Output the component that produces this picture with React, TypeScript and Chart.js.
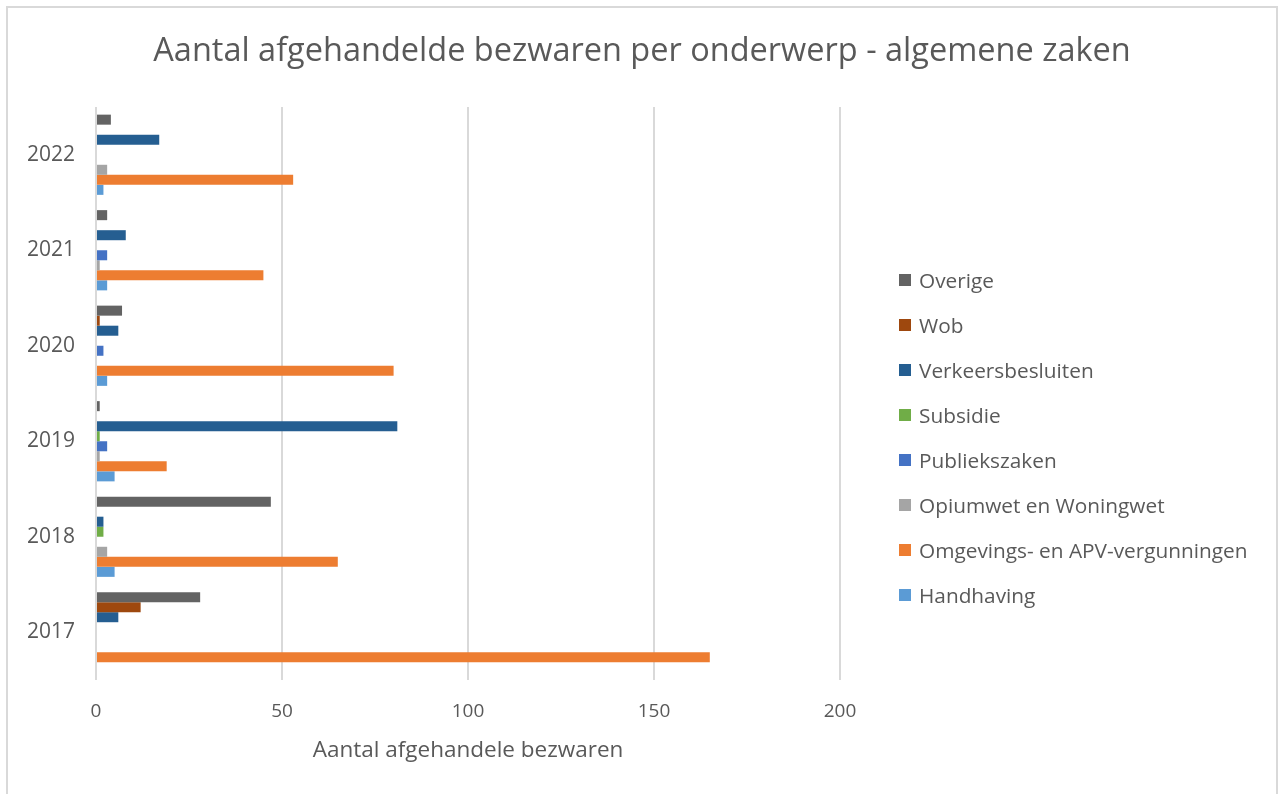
import React, { useEffect, useRef } from "react";
import { Chart, registerables } from "chart.js";

Chart.register(...registerables);

const years = ["2022", "2021", "2020", "2019", "2018", "2017"];
const seriesNames = [
  "Overige",
  "Wob",
  "Verkeersbesluiten",
  "Subsidie",
  "Publiekszaken",
  "Opiumwet en Woningwet",
  "Omgevings- en APV-vergunningen",
  "Handhaving",
];
const seriesColors = [
  "#636363",
  "#9E480E",
  "#255E91",
  "#70AD47",
  "#4472C4",
  "#A5A5A5",
  "#ED7D31",
  "#5B9BD5",
];
const overige = [4, 3, 7, 1, 47, 28];
const wob = [0, 0, 1, 0, 0, 12];
const verkeersbesluiten = [17, 8, 6, 81, 2, 6];
const subsidie = [0, 0, 0, 1, 2, 0];
const publiekszaken = [0, 3, 2, 3, 0, 0];
const opiumwet = [3, 1, 0, 1, 3, 0];
const omgevings = [53, 45, 80, 19, 65, 165];
const handhaving = [2, 3, 3, 5, 5, 0];
const seriesValues = [overige, wob, verkeersbesluiten, subsidie, publiekszaken, opiumwet, omgevings, handhaving];

const titleText = "Aantal afgehandelde bezwaren per onderwerp - algemene zaken";
const xTitle = "Aantal afgehandele bezwaren";
const FONT = "'Open Sans', sans-serif";
const TEXT = "#595959";

export default function App() {
  const ref = useRef<HTMLCanvasElement | null>(null);
  useEffect(() => {
    if (!ref.current) return;
    const chart = new Chart(ref.current, {
      type: "bar",
      data: {
        labels: years,
        datasets: seriesNames.map((name, i) => ({
          label: name,
          data: seriesValues[i],
          backgroundColor: seriesColors[i],
          borderWidth: 0,
          barPercentage: 1,
          categoryPercentage: 0.84,
        })),
      },
      options: {
        indexAxis: "y",
        animation: false,
        responsive: false,
        maintainAspectRatio: false,
        layout: { padding: { left: 16, right: 12, top: 0, bottom: 24 } },
        plugins: {
          legend: { display: false },
          tooltip: { enabled: false },
          title: {
            display: true,
            text: titleText,
            color: TEXT,
            font: { family: FONT, size: 32.5, weight: "normal" },
            padding: { top: 32, bottom: 36 },
          },
        },
        scales: {
          y: {
            type: "category",
            grid: { display: false, drawTicks: false },
            border: { display: false },
            ticks: { color: TEXT, font: { family: FONT, size: 21 }, padding: 21 },
            afterFit: (s: any) => {
              s.width = 80;
            },
          },
          legendSpace: {
            type: "linear",
            position: "right",
            display: true,
            grid: { display: false, drawTicks: false },
            border: { display: false },
            ticks: { display: false },
            afterFit: (s: any) => {
              s.width = 428;
            },
          },
          x: {
            min: 0,
            max: 200,
            ticks: { stepSize: 50, color: TEXT, font: { family: FONT, size: 19 }, padding: 20 },
            grid: { color: "#d9d9d9", lineWidth: 2, drawTicks: false },
            border: { display: false },
            title: {
              display: true,
              text: xTitle,
              color: TEXT,
              font: { family: FONT, size: 22.5 },
              padding: { top: 0, bottom: 6 },
            },
            afterFit: (s: any) => {
              s.height = 90;
            },
          },
        },
      },
    });
    return () => chart.destroy();
  }, []);

  return (
    <div style={{ position: "absolute", left: 0, top: 0, width: 1280, height: 794, overflow: "hidden", background: "#fff" }}>
      <div
        style={{
          position: "absolute",
          left: 6,
          top: 6,
          width: 1268,
          height: 840,
          border: "2px solid #d9d9d9",
        }}
      />
      <canvas ref={ref} width={1280} height={794} style={{ position: "absolute", left: 0, top: 0, width: 1280, height: 794 }} />
      <div style={{ position: "absolute", left: 899, top: 267, fontFamily: FONT, fontSize: 20.8, color: TEXT }}>
        {seriesNames.map((n, i) => (
          <div key={n} style={{ display: "flex", alignItems: "center", height: 26, marginBottom: 19, whiteSpace: "nowrap" }}>
            <span style={{ display: "inline-block", width: 12, height: 12, background: seriesColors[i], marginRight: 8 }} />
            <span>{n}</span>
          </div>
        ))}
      </div>
    </div>
  );
}
